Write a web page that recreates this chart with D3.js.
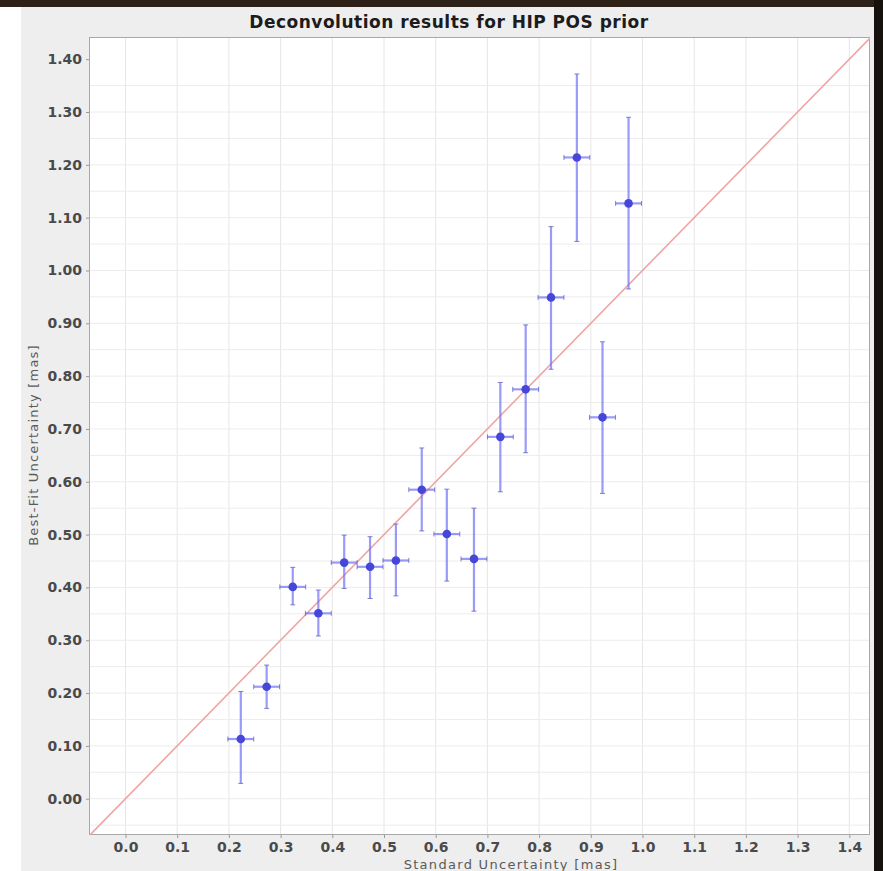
<!DOCTYPE html>
<html>
<head>
<meta charset="utf-8">
<script src="https://cdn.jsdelivr.net/npm/d3@7/dist/d3.min.js"></script>
<style>
  html, body { margin: 0; padding: 0; background: #ffffff; }
  svg { display: block; }
  text { font-family: "DejaVu Sans", sans-serif; }
</style>
</head>
<body>
<svg id="chart" width="883" height="871"></svg>
<script>
// Bin centres (standard uncertainty, mas)
const standardUnc = [0.223, 0.273, 0.3235, 0.373, 0.423, 0.473, 0.523, 0.573,
                     0.6215, 0.674, 0.725, 0.774, 0.823, 0.873, 0.9226, 0.973];
// Horizontal half-width of each bin
const standardHalfWidth = [0.025, 0.025, 0.025, 0.025, 0.025, 0.025, 0.025, 0.025,
                           0.025, 0.025, 0.025, 0.025, 0.025, 0.025, 0.025, 0.025];
// Best-fit uncertainty with its lower / upper error limits (mas)
const bestFitUnc = [0.113, 0.212, 0.401, 0.351, 0.447, 0.439, 0.451, 0.585,
                    0.501, 0.454, 0.685, 0.775, 0.949, 1.214, 0.722, 1.127];
const bestFitLow = [0.029, 0.171, 0.367, 0.308, 0.398, 0.379, 0.384, 0.507,
                    0.412, 0.355, 0.581, 0.655, 0.813, 1.055, 0.578, 0.965];
const bestFitHigh = [0.203, 0.253, 0.438, 0.395, 0.499, 0.496, 0.520, 0.664,
                     0.586, 0.550, 0.788, 0.897, 1.083, 1.372, 0.865, 1.290];

const xTicks = [0.0, 0.1, 0.2, 0.3, 0.4, 0.5, 0.6, 0.7, 0.8, 0.9, 1.0, 1.1, 1.2, 1.3, 1.4];
const yTicks = [0.0, 0.1, 0.2, 0.3, 0.4, 0.5, 0.6, 0.7, 0.8, 0.9, 1.0, 1.1, 1.2, 1.3, 1.4];
const yGrid = d3.range(0, 29).map(i => -0.05 + i * 0.05);

const titleText = "Deconvolution results for HIP POS prior";
const xLabelText = "Standard Uncertainty [mas]";
const yLabelText = "Best-Fit Uncertainty [mas]";

const W = 883, H = 871;
const plot = { left: 89, right: 870, top: 37, bottom: 835 };

const svg = d3.select("#chart");

// Surrounding frame and panel
svg.append("rect").attr("x", 0).attr("y", 0).attr("width", W).attr("height", H).attr("fill", "#ffffff");
svg.append("rect").attr("x", 0).attr("y", 0).attr("width", W).attr("height", 7).attr("fill", "#2e2118");
svg.append("rect").attr("x", 874).attr("y", 0).attr("width", W - 874).attr("height", H).attr("fill", "#17110d");
svg.append("rect").attr("x", 21).attr("y", 7).attr("width", 853).attr("height", H - 7).attr("fill", "#eeeeee");

const x = d3.scaleLinear().domain([-0.0706, 1.440]).range([plot.left, plot.right]);
const y = d3.scaleLinear().domain([-0.0687, 1.442]).range([plot.bottom, plot.top]);

// Plot background
svg.append("rect")
  .attr("x", plot.left).attr("y", plot.top)
  .attr("width", plot.right - plot.left).attr("height", plot.bottom - plot.top)
  .attr("fill", "#ffffff");

svg.append("clipPath").attr("id", "plotClip")
  .append("rect")
  .attr("x", plot.left).attr("y", plot.top)
  .attr("width", plot.right - plot.left).attr("height", plot.bottom - plot.top);

// Grid
const grid = svg.append("g").attr("clip-path", "url(#plotClip)");
grid.selectAll("line.vg").data(xTicks).join("line")
  .attr("class", "vg")
  .attr("x1", d => x(d)).attr("x2", d => x(d))
  .attr("y1", plot.top).attr("y2", plot.bottom)
  .attr("stroke", "#e6e6e6").attr("stroke-width", 1);
grid.selectAll("line.hg").data(yGrid).join("line")
  .attr("class", "hg")
  .attr("y1", d => y(d)).attr("y2", d => y(d))
  .attr("x1", plot.left).attr("x2", plot.right)
  .attr("stroke", "#ececec").attr("stroke-width", 1);

// Axes
const xAxis = d3.axisBottom(x).tickValues(xTicks).tickFormat(d3.format(".1f")).tickSize(3).tickPadding(4);
const yAxis = d3.axisLeft(y).tickValues(yTicks).tickFormat(d3.format(".2f")).tickSize(3).tickPadding(4);

const gx = svg.append("g").attr("transform", `translate(0,${plot.bottom})`).call(xAxis);
const gy = svg.append("g").attr("transform", `translate(${plot.left},0)`).call(yAxis);
[gx, gy].forEach(g => {
  g.select(".domain").remove();
  g.selectAll(".tick line").attr("stroke", "#9a9a9a");
  g.selectAll(".tick text")
    .attr("fill", "#4a4a4a")
    .style("font-family", "'DejaVu Sans', sans-serif")
    .style("font-size", "14px")
    .style("font-weight", "bold");
});

// Plot border
svg.append("rect")
  .attr("x", plot.left + 0.5).attr("y", plot.top + 0.5)
  .attr("width", plot.right - plot.left - 1).attr("height", plot.bottom - plot.top - 1)
  .attr("fill", "none").attr("stroke", "#a8a8a8").attr("stroke-width", 1);

// Reference line y = x
const marks = svg.append("g").attr("clip-path", "url(#plotClip)");
const lineExtent = [-0.08, 1.45];
marks.append("line")
  .attr("x1", x(lineExtent[0])).attr("y1", y(lineExtent[0]))
  .attr("x2", x(lineExtent[1])).attr("y2", y(lineExtent[1]))
  .attr("stroke", "#f0a4a4").attr("stroke-width", 1.6);

const pts = standardUnc.map((sx, i) => ({
  x: sx, hw: standardHalfWidth[i],
  y: bestFitUnc[i], lo: bestFitLow[i], hi: bestFitHigh[i]
}));

const barColor = "rgba(115, 115, 245, 0.72)";
const capColor = "rgba(90, 90, 190, 0.75)";
const cap = 2.5;

const eb = marks.selectAll("g.err").data(pts).join("g").attr("class", "err");
// vertical error bars
eb.append("line")
  .attr("x1", d => x(d.x)).attr("x2", d => x(d.x))
  .attr("y1", d => y(d.lo)).attr("y2", d => y(d.hi))
  .attr("stroke", barColor).attr("stroke-width", 2.2);
eb.append("line")
  .attr("x1", d => x(d.x) - cap).attr("x2", d => x(d.x) + cap)
  .attr("y1", d => y(d.lo)).attr("y2", d => y(d.lo))
  .attr("stroke", capColor).attr("stroke-width", 1);
eb.append("line")
  .attr("x1", d => x(d.x) - cap).attr("x2", d => x(d.x) + cap)
  .attr("y1", d => y(d.hi)).attr("y2", d => y(d.hi))
  .attr("stroke", capColor).attr("stroke-width", 1);
// horizontal error bars
eb.append("line")
  .attr("x1", d => x(d.x - d.hw)).attr("x2", d => x(d.x + d.hw))
  .attr("y1", d => y(d.y)).attr("y2", d => y(d.y))
  .attr("stroke", barColor).attr("stroke-width", 2.2);
eb.append("line")
  .attr("x1", d => x(d.x - d.hw)).attr("x2", d => x(d.x - d.hw))
  .attr("y1", d => y(d.y) - cap).attr("y2", d => y(d.y) + cap)
  .attr("stroke", capColor).attr("stroke-width", 1);
eb.append("line")
  .attr("x1", d => x(d.x + d.hw)).attr("x2", d => x(d.x + d.hw))
  .attr("y1", d => y(d.y) - cap).attr("y2", d => y(d.y) + cap)
  .attr("stroke", capColor).attr("stroke-width", 1);

// points
marks.selectAll("circle.pt").data(pts).join("circle")
  .attr("class", "pt")
  .attr("cx", d => x(d.x)).attr("cy", d => y(d.y))
  .attr("r", 4.3)
  .attr("fill", "#4646d8");

// Titles
svg.append("text")
  .attr("x", 449).attr("y", 28)
  .attr("text-anchor", "middle")
  .style("font-size", "17px").style("font-weight", "bold")
  .style("letter-spacing", "0.5px")
  .attr("fill", "#1c1c1c")
  .text(titleText);

svg.append("text")
  .attr("x", 511).attr("y", 869)
  .attr("text-anchor", "middle")
  .style("font-size", "13px")
  .style("letter-spacing", "1.3px")
  .attr("fill", "#5a5a5a")
  .text(xLabelText);

svg.append("text")
  .attr("transform", "translate(38,445) rotate(-90)")
  .attr("text-anchor", "middle")
  .style("font-size", "13px")
  .style("letter-spacing", "1.2px")
  .attr("fill", "#5a5a5a")
  .text(yLabelText);
</script>
</body>
</html>
